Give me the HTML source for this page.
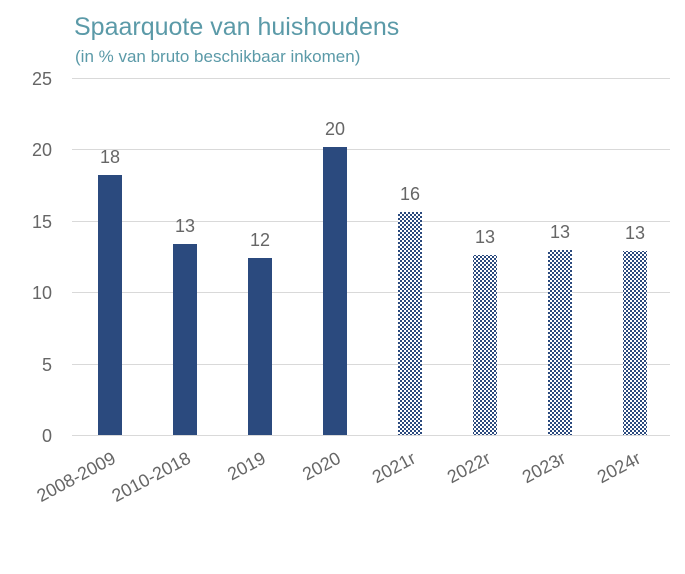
<!DOCTYPE html>
<html><head><meta charset="utf-8"><style>
body{margin:0;background:#fff;width:685px;height:574px;overflow:hidden}
svg{display:block;font-family:"Liberation Sans",sans-serif}
</style></head><body>
<svg width="685" height="574" viewBox="0 0 685 574">
<defs>
<pattern id="ck" width="4" height="4" patternUnits="userSpaceOnUse">
<rect width="4" height="4" fill="#fff"/>
<rect width="2" height="2" fill="#2b4a7e"/><rect x="2" y="2" width="2" height="2" fill="#2b4a7e"/>
</pattern>
</defs>
<text x="74" y="35" font-size="25" fill="#5b9aa8">Spaarquote van huishoudens</text>
<text x="75" y="62" font-size="17" fill="#5b9aa8">(in % van bruto beschikbaar inkomen)</text>
<g stroke="#d9d9d9" stroke-width="1">
<line x1="72" x2="670" y1="78.5" y2="78.5"/><line x1="72" x2="670" y1="149.5" y2="149.5"/>
<line x1="72" x2="670" y1="221.5" y2="221.5"/><line x1="72" x2="670" y1="292.5" y2="292.5"/>
<line x1="72" x2="670" y1="364.5" y2="364.5"/><line x1="72" x2="670" y1="435.5" y2="435.5"/>
</g>
<g font-size="18" fill="#666" text-anchor="end">
<text x="52" y="85">25</text><text x="52" y="156">20</text><text x="52" y="228">15</text>
<text x="52" y="299">10</text><text x="52" y="371">5</text><text x="52" y="442">0</text>
</g>
<g fill="#2b4a7e">
<rect x="98" y="175" width="24" height="260"/>
<rect x="173" y="244" width="24" height="191"/>
<rect x="248" y="258" width="24" height="177"/>
<rect x="323" y="147" width="24" height="288"/>
</g>
<g fill="url(#ck)">
<rect x="398" y="212" width="24" height="223"/>
<rect x="473" y="255" width="24" height="180"/>
<rect x="548" y="250" width="24" height="185"/>
<rect x="623" y="251" width="24" height="184"/>
</g>
<g font-size="18" fill="#666" text-anchor="middle">
<text x="110" y="163">18</text><text x="185" y="232">13</text><text x="260" y="246">12</text>
<text x="335" y="135">20</text><text x="410" y="200">16</text><text x="485" y="243">13</text>
<text x="560" y="238">13</text><text x="635" y="239">13</text>
</g>
<g font-size="18" fill="#666" text-anchor="end">
<text transform="translate(117,462) rotate(-28)">2008-2009</text>
<text transform="translate(192,462) rotate(-28)">2010-2018</text>
<text transform="translate(267,462) rotate(-28)">2019</text>
<text transform="translate(342,462) rotate(-28)">2020</text>
<text transform="translate(417,462) rotate(-28)">2021r</text>
<text transform="translate(492,462) rotate(-28)">2022r</text>
<text transform="translate(567,462) rotate(-28)">2023r</text>
<text transform="translate(642,462) rotate(-28)">2024r</text>
</g>
</svg>
</body></html>
